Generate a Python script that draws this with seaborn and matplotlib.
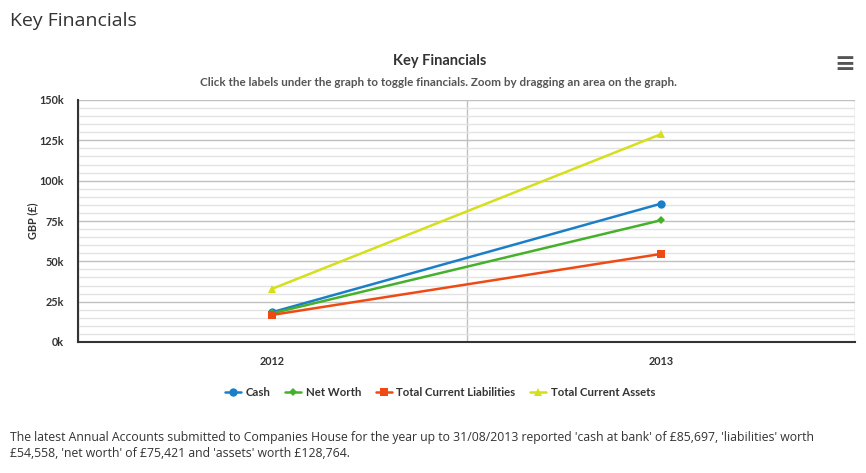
import matplotlib
matplotlib.use("Agg")
import matplotlib.pyplot as plt
import seaborn as sns
import pandas as pd
from matplotlib.ticker import MultipleLocator, FixedLocator, FuncFormatter

# --- data ---
years = ["2012", "2013"]
cash = [18500, 85697]
net_worth = [17800, 75421]
liabilities = [16800, 54558]
assets = [33000, 128764]

series_names = ["Cash", "Net Worth", "Total Current Liabilities", "Total Current Assets"]
series_values = [cash, net_worth, liabilities, assets]
colors = ["#1b7fc8", "#45b12b", "#ef4a14", "#d5df1c"]
marker_shapes = ["o", "D", "s", "^"]
marker_sizes = [6, 4.5, 6, 6]

rows = []
for name, vals in zip(series_names, series_values):
    for yr, v in zip(years, vals):
        rows.append({"Year": yr, "Value": v, "Series": name})
df = pd.DataFrame(rows)

sns.set_theme(style="white")
plt.rcParams["font.family"] = ["Lato", "DejaVu Sans"]

fig = plt.figure(figsize=(8.66, 4.73), dpi=100)
ax = fig.add_axes([78 / 866, 1 - 342 / 473, 777 / 866, 242 / 473])

sns.lineplot(
    data=df, x="Year", y="Value", hue="Series", style="Series",
    palette=dict(zip(series_names, colors)),
    markers=dict(zip(series_names, marker_shapes)),
    dashes=False, linewidth=1.8, markeredgewidth=0,
    legend=False, ax=ax, zorder=3,
)
# per-series marker sizes
for line, ms in zip(ax.get_lines(), marker_sizes):
    line.set_markersize(ms)

ax.set_xlim(-0.5, 1.5)
ax.set_ylim(0, 150000)

# y axis grid: major every 25k, minor every 5k
ax.yaxis.set_major_locator(MultipleLocator(25000))
ax.yaxis.set_minor_locator(MultipleLocator(5000))
ax.yaxis.set_major_formatter(FuncFormatter(lambda v, p: f"{int(v / 1000)}k"))
ax.grid(which="major", axis="y", color="#c0c0c0", linewidth=1.0, zorder=1)
ax.grid(which="minor", axis="y", color="#e3e3e3", linewidth=1.0, zorder=0)

# x axis: labels on categories, tick marks / gridlines between them
ax.xaxis.set_major_locator(FixedLocator([0, 1]))
ax.xaxis.set_minor_locator(FixedLocator([-0.5, 0.5, 1.5]))
ax.grid(which="minor", axis="x", color="#c0c0c0", linewidth=1.0, zorder=1)
ax.tick_params(axis="x", which="major", length=0, pad=10, labelsize=7.8, colors="#333333")
ax.tick_params(axis="x", which="minor", length=9, width=1.2, color="#333333", direction="out")
ax.tick_params(axis="y", which="major", length=8, width=1.2, color="#333333", direction="out",
               labelsize=7.8, labelcolor="#333333", pad=2)
ax.tick_params(axis="y", which="minor", length=0)

for side in ["top", "right"]:
    ax.spines[side].set_visible(False)
ax.spines["left"].set_color("#333333")
ax.spines["left"].set_linewidth(1.5)
ax.spines["bottom"].set_color("#333333")
ax.spines["bottom"].set_linewidth(1.5)

ax.set_xlabel("")
ax.set_ylabel("GBP (£)", fontsize=7.8, fontweight="bold", color="#333333", labelpad=1)

# titles
fig.text(10 / 866, 1 - 21 / 473, "Key Financials", fontsize=14, color="#333333",
         family="Open Sans", va="center", ha="left")
fig.text(440 / 866, 1 - 61 / 473, "Key Financials", fontsize=10.5, fontweight="bold",
         color="#333333", va="center", ha="center")
fig.text(438 / 866, 1 - 82 / 473,
         "Click the labels under the graph to toggle financials. Zoom by dragging an area on the graph.",
         fontsize=8.4, fontweight="bold", color="#555555", va="center", ha="center")
# menu icon
fig.text(845 / 866, 1 - 64 / 473, "≡", fontsize=18, fontweight="bold", color="#555555",
         family="DejaVu Sans", va="center", ha="center")

# legend below
handles = [
    plt.Line2D([], [], color=c, marker=m, markersize=s, markeredgewidth=0, linewidth=1.8)
    for c, m, s in zip(colors, marker_shapes, marker_sizes)
]
leg = fig.legend(handles, series_names, loc="center", bbox_to_anchor=(440 / 866, 1 - 392 / 473),
                 ncol=4, frameon=False, handlelength=1.4, handletextpad=0.4, columnspacing=1.3,
                 prop={"size": 8.2, "weight": "bold"})
for t in leg.get_texts():
    t.set_color("#333333")

# footer paragraph
fig.text(10 / 866, 1 - 437 / 473,
         "The latest Annual Accounts submitted to Companies House for the year up to 31/08/2013 "
         "reported 'cash at bank' of £85,697, 'liabilities' worth",
         fontsize=8.8, family="Open Sans", color="#333333", va="center", ha="left")
fig.text(10 / 866, 1 - 453 / 473,
         "£54,558, 'net worth' of £75,421 and 'assets' worth £128,764.",
         fontsize=8.8, family="Open Sans", color="#333333", va="center", ha="left")

# bold tick labels (set after a draw so the real labels exist)
fig.canvas.draw()
for lab in ax.get_xticklabels() + ax.get_yticklabels():
    lab.set_fontweight("bold")

fig.savefig("out.png", dpi=100)
